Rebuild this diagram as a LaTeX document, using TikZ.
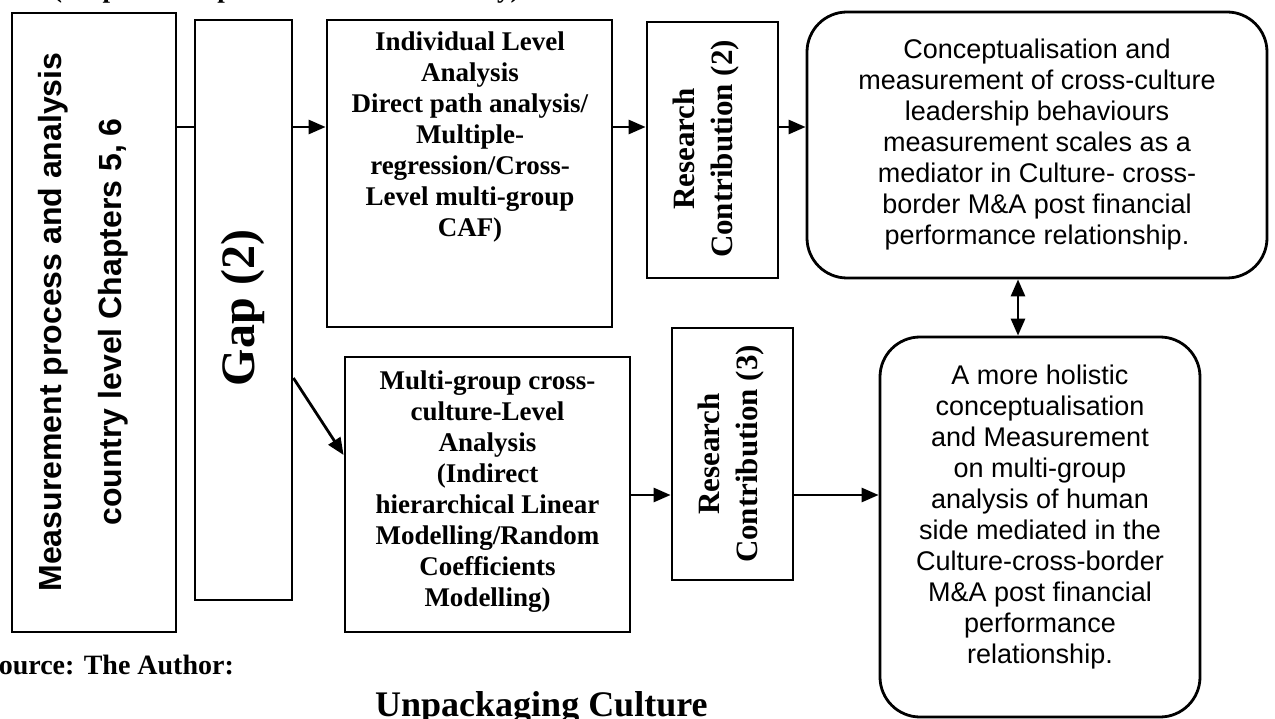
\documentclass[tikz,border=0pt]{standalone}
\usepackage{fontspec}
\setmainfont{Liberation Serif}
\setsansfont{Liberation Sans}
\usetikzlibrary{arrows.meta}

\begin{document}
\begin{tikzpicture}[x=1pt,y=-1pt,
  frame/.style={draw, line width=2.8pt, inner sep=0pt},
  roundframe/.style={frame, rounded corners=40pt},
  conn/.style={line width=2.8pt},
  arr/.style={conn, -{Triangle[length=17pt,width=14pt]}},
  dblarr/.style={conn, {Triangle[length=17pt,width=14pt]}-{Triangle[length=17pt,width=14pt]}},
  seriftext/.style={font=\bfseries\fontsize{27}{31}\selectfont, align=center, inner sep=0pt},
  rctext/.style={font=\bfseries\fontsize{31}{38}\selectfont, align=center, inner sep=0pt, rotate=90},
  sanstext/.style={font=\sffamily\fontsize{27}{31}\selectfont, align=center, inner sep=0pt},
]
\fill[white] (0,0) rectangle (1275,719);
\useasboundingbox (0,0) rectangle (1275,719);
\clip (0,0) rectangle (1275,719);

% heading line running off the top edge
\node[anchor=base west, font=\bfseries\fontsize{27}{31}\selectfont, inner sep=0pt] (heading) at (53,-2) {(Empirical Implementation of the study)};

% left column
\node[frame, minimum width=164pt, minimum height=619pt] (meas) at (94,322.5) {};
\node[font=\sffamily\bfseries\fontsize{32}{60}\selectfont, align=center, inner sep=0pt, rotate=90] (meastxt) at (83,322) {Measurement process and analysis\\country level Chapters 5, 6};

\node[frame, minimum width=97pt, minimum height=580pt] (gap) at (243.5,310) {};
\node[font=\bfseries\fontsize{48}{52}\selectfont, inner sep=0pt, rotate=90] (gaptxt) at (243,308) {Gap (2)};

% analysis boxes
\node[frame, minimum width=285pt, minimum height=307pt] (ind) at (469.5,173.5) {};
\node[seriftext] (indtxt) at (470,137) {Individual Level\\Analysis\\Direct path analysis/\\Multiple-\\regression/Cross-\\Level multi-group\\CAF)};

\node[frame, minimum width=285pt, minimum height=275pt] (multi) at (487.5,494.5) {};
\node[seriftext] (multitxt) at (487.5,491.5) {Multi-group cross-\\culture-Level\\Analysis\\(Indirect\\hierarchical Linear\\Modelling/Random\\Coefficients\\Modelling)};

% contribution boxes
\node[frame, minimum width=131pt, minimum height=256pt] (rc2) at (712.5,150) {};
\node[rctext] (rc2txt) at (706,149) {Research\\Contribution (2)};

\node[frame, minimum width=121pt, minimum height=252pt] (rc3) at (732.5,454) {};
\node[rctext] (rc3txt) at (731.5,454) {Research\\Contribution (3)};

% outcome boxes
\node[roundframe, minimum width=460pt, minimum height=266pt] (cons) at (1037,145) {};
\node[sanstext] (constxt) at (1037,145) {Conceptualisation and\\measurement of cross-culture\\leadership behaviours\\measurement scales as a\\mediator in Culture- cross-\\border M\&A post financial\\performance relationship.};

\node[roundframe, minimum width=320pt, minimum height=380pt] (holi) at (1040,527) {};
\node[sanstext] (holitxt) at (1040,517) {A more holistic\\conceptualisation\\and Measurement\\on multi-group\\analysis of human\\side mediated in the\\Culture-cross-border\\M\&A post financial\\performance\\relationship.};

% connector levels
\coordinate (row1) at (0,127);
\coordinate (row2) at (0,495);
\coordinate (diagA) at (0,378);
\coordinate (diagB) at (0,455);
\coordinate (vcol) at (1018,0);

\draw[conn] (meas.east |- row1) -- (gap.west |- row1);
\draw[arr] (gap.east |- row1) -- (ind.west |- row1);
\draw[arr] (ind.east |- row1) -- (rc2.west |- row1);
\draw[arr] (rc2.east |- row1) -- (cons.west |- row1);
\draw[arr] (gap.east |- diagA) -- (multi.west |- diagB);
\draw[arr] (multi.east |- row2) -- (rc3.west |- row2);
\draw[arr] (rc3.east |- row2) -- (holi.west |- row2);
\draw[dblarr] (cons.south -| vcol) -- (holi.north -| vcol);

% footer texts
\node[anchor=base west, font=\bfseries\fontsize{28}{32}\selectfont, inner sep=0pt] (source) at (-17,674) {Source: The Author:};
\node[anchor=base west, font=\bfseries\fontsize{36}{40}\selectfont, inner sep=0pt] (title) at (375,716) {Unpackaging Culture};
\end{tikzpicture}
\end{document}
